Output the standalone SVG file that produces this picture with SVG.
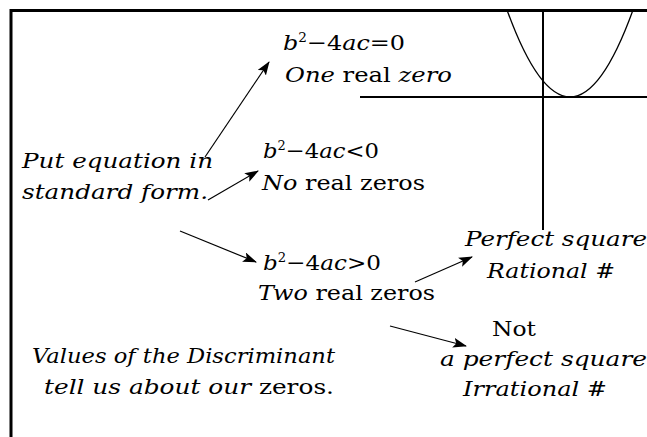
<svg xmlns="http://www.w3.org/2000/svg" width="647" height="437" viewBox="0 0 647 437">
<style>
text,tspan{font-family:"DejaVu Serif","Liberation Serif",serif;fill:#000}
.frame{stroke:#000;stroke-width:3;fill:none}
.axis{stroke:#000;stroke-width:2;fill:none}
.curve{stroke:#000;stroke-width:1.3;fill:none}
.conn line{stroke:#000;stroke-width:1.2}
</style>
<defs>
<marker id="ah" viewBox="0 0 14 10" refX="13" refY="5" markerWidth="14" markerHeight="10" markerUnits="userSpaceOnUse" orient="auto">
<path d="M0,0 L14,5 L0,10 L3,5 Z" fill="#000"/>
</marker>
</defs>
<rect width="647" height="437" fill="#fff"/>
<g id="frame">
<path class="frame" d="M11,437 V10.5 H647"/>
</g>
<g id="graph">
<line class="axis" x1="543" y1="10" x2="543" y2="230"/>
<line class="axis" x1="360" y1="97" x2="647" y2="97"/>
<path class="curve" d="M507,10 Q570,184 633,10"/>
</g>
<g id="n-zero">
<text x="283" y="50" textLength="122" lengthAdjust="spacingAndGlyphs" style="font-family:'DejaVu Serif',serif;font-size:21px"><tspan style="font-family:'DejaVu Serif',serif;font-size:21px;font-style:italic">b</tspan><tspan dy="-8" style="font-family:'DejaVu Serif',serif;font-size:12px">2</tspan><tspan dy="8" style="font-family:'DejaVu Serif',serif;font-size:21px">−4</tspan><tspan style="font-family:'DejaVu Serif',serif;font-size:21px;font-style:italic">ac</tspan><tspan style="font-family:'DejaVu Serif',serif;font-size:21px">=0</tspan></text>
<text x="285" y="82" textLength="167" lengthAdjust="spacingAndGlyphs" style="font-family:'DejaVu Serif',serif;font-size:21px"><tspan style="font-family:'DejaVu Serif',serif;font-size:21px;font-style:italic">One</tspan><tspan style="font-family:'DejaVu Serif',serif;font-size:21px"> real </tspan><tspan style="font-family:'DejaVu Serif',serif;font-size:21px;font-style:italic">zero</tspan></text>
</g>
<g id="n-start">
<text x="22" y="168" textLength="191" lengthAdjust="spacingAndGlyphs" style="font-family:'DejaVu Serif',serif;font-size:21px;font-style:italic">Put equation in</text>
<text x="22" y="199" textLength="186" lengthAdjust="spacingAndGlyphs" style="font-family:'DejaVu Serif',serif;font-size:21px;font-style:italic">standard form.</text>
</g>
<g id="n-neg">
<text x="263" y="158" textLength="116" lengthAdjust="spacingAndGlyphs" style="font-family:'DejaVu Serif',serif;font-size:21px"><tspan style="font-family:'DejaVu Serif',serif;font-size:21px;font-style:italic">b</tspan><tspan dy="-8" style="font-family:'DejaVu Serif',serif;font-size:12px">2</tspan><tspan dy="8" style="font-family:'DejaVu Serif',serif;font-size:21px">−4</tspan><tspan style="font-family:'DejaVu Serif',serif;font-size:21px;font-style:italic">ac</tspan><tspan style="font-family:'DejaVu Serif',serif;font-size:21px">&lt;0</tspan></text>
<text x="262" y="190" textLength="163" lengthAdjust="spacingAndGlyphs" style="font-family:'DejaVu Serif',serif;font-size:21px"><tspan style="font-family:'DejaVu Serif',serif;font-size:21px;font-style:italic">No</tspan><tspan style="font-family:'DejaVu Serif',serif;font-size:21px"> real zeros</tspan></text>
</g>
<g id="n-pos">
<text x="263" y="270" textLength="118" lengthAdjust="spacingAndGlyphs" style="font-family:'DejaVu Serif',serif;font-size:21px"><tspan style="font-family:'DejaVu Serif',serif;font-size:21px;font-style:italic">b</tspan><tspan dy="-8" style="font-family:'DejaVu Serif',serif;font-size:12px">2</tspan><tspan dy="8" style="font-family:'DejaVu Serif',serif;font-size:21px">−4</tspan><tspan style="font-family:'DejaVu Serif',serif;font-size:21px;font-style:italic">ac</tspan><tspan style="font-family:'DejaVu Serif',serif;font-size:21px">&gt;0</tspan></text>
<text x="258" y="300" textLength="177" lengthAdjust="spacingAndGlyphs" style="font-family:'DejaVu Serif',serif;font-size:21px"><tspan style="font-family:'DejaVu Serif',serif;font-size:21px;font-style:italic">Two</tspan><tspan style="font-family:'DejaVu Serif',serif;font-size:21px"> real zeros</tspan></text>
</g>
<g id="n-perfect">
<text x="465" y="246" textLength="182" lengthAdjust="spacingAndGlyphs" style="font-family:'DejaVu Serif',serif;font-size:21px;font-style:italic">Perfect square</text>
<text x="487" y="278" textLength="128" lengthAdjust="spacingAndGlyphs" style="font-family:'DejaVu Serif',serif;font-size:21px"><tspan style="font-family:'DejaVu Serif',serif;font-size:21px;font-style:italic">Rational</tspan><tspan style="font-family:'DejaVu Serif',serif;font-size:21px"> #</tspan></text>
</g>
<g id="n-notperfect">
<text x="492" y="336" textLength="44" lengthAdjust="spacingAndGlyphs" style="font-family:'DejaVu Serif',serif;font-size:21px">Not</text>
<text x="440" y="366" textLength="207" lengthAdjust="spacingAndGlyphs" style="font-family:'DejaVu Serif',serif;font-size:21px;font-style:italic">a perfect square</text>
<text x="463" y="396" textLength="144" lengthAdjust="spacingAndGlyphs" style="font-family:'DejaVu Serif',serif;font-size:21px"><tspan style="font-family:'DejaVu Serif',serif;font-size:21px;font-style:italic">Irrational</tspan><tspan style="font-family:'DejaVu Serif',serif;font-size:21px"> #</tspan></text>
</g>
<g id="n-note">
<text x="32" y="363" textLength="303" lengthAdjust="spacingAndGlyphs" style="font-family:'DejaVu Serif',serif;font-size:21px;font-style:italic">Values of the Discriminant</text>
<text x="44" y="394" textLength="290" lengthAdjust="spacingAndGlyphs" style="font-family:'DejaVu Serif',serif;font-size:21px"><tspan style="font-family:'DejaVu Serif',serif;font-size:21px;font-style:italic">tell us about our</tspan><tspan style="font-family:'DejaVu Serif',serif;font-size:21px"> zeros.</tspan></text>
</g>
<g id="connectors" class="conn">
<line x1="205" y1="157" x2="269" y2="62" marker-end="url(#ah)"/>
<line x1="208" y1="200" x2="258" y2="171" marker-end="url(#ah)"/>
<line x1="180" y1="231" x2="256" y2="262" marker-end="url(#ah)"/>
<line x1="415" y1="282" x2="472" y2="257" marker-end="url(#ah)"/>
<line x1="390" y1="326" x2="466" y2="346" marker-end="url(#ah)"/>
</g>
</svg>
